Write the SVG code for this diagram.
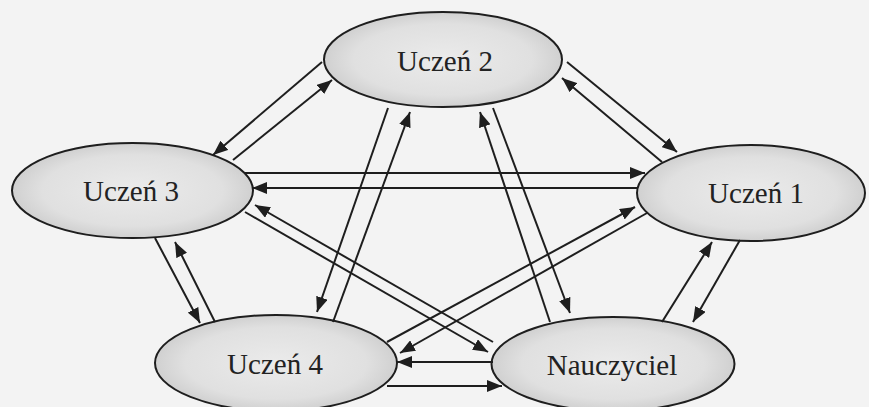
<svg xmlns="http://www.w3.org/2000/svg" width="869" height="407" viewBox="0 0 869 407">
<style>
.node ellipse{fill:url(#g);stroke:#1e1e1e;stroke-width:2}
.node text{font-family:"Liberation Serif","Times New Roman",serif;font-size:29px;fill:#222;text-anchor:middle}
.edges line{stroke:#1e1e1e;stroke-width:2;marker-end:url(#ah)}
</style>
<defs>
<radialGradient id="g" cx="50%" cy="50%" r="50%">
<stop offset="0" stop-color="#ebebeb"/>
<stop offset="0.75" stop-color="#e0e0e0"/>
<stop offset="1" stop-color="#d0d0d0"/>
</radialGradient>
<marker id="ah" markerUnits="userSpaceOnUse" markerWidth="16" markerHeight="12" refX="15" refY="6" orient="auto">
<path d="M0,0 L15,6 L0,12 z" fill="#1e1e1e"/>
</marker>
</defs>
<rect width="869" height="407" fill="#f3f3f3"/>
<g id="uczen2" class="node"><ellipse cx="443" cy="59.5" rx="119" ry="47.5"/><text x="445" y="71">Uczeń 2</text></g>
<g id="uczen3" class="node"><ellipse cx="132.5" cy="190.5" rx="120.5" ry="47.5"/><text x="131" y="201">Uczeń 3</text></g>
<g id="uczen1" class="node"><ellipse cx="751" cy="193" rx="114" ry="48"/><text x="756" y="203">Uczeń 1</text></g>
<g id="uczen4" class="node"><ellipse cx="276" cy="363" rx="121" ry="48"/><text x="275" y="374">Uczeń 4</text></g>
<g id="nauczyciel" class="node"><ellipse cx="613" cy="364" rx="121.5" ry="47"/><text x="612" y="375">Nauczyciel</text></g>
<g id="connectors" class="edges">
<line x1="322" y1="62" x2="213" y2="155"/>
<line x1="233" y1="160" x2="332" y2="80"/>
<line x1="567" y1="62" x2="677" y2="152"/>
<line x1="662" y1="162" x2="562" y2="78"/>
<line x1="245" y1="173" x2="645" y2="173"/>
<line x1="637" y1="188" x2="252" y2="188"/>
<line x1="388" y1="108" x2="317" y2="312"/>
<line x1="333" y1="322" x2="410" y2="112"/>
<line x1="550" y1="322" x2="480" y2="112"/>
<line x1="493" y1="108" x2="570" y2="313"/>
<line x1="493" y1="342" x2="255" y2="205"/>
<line x1="245" y1="212" x2="488" y2="352"/>
<line x1="387" y1="342" x2="635" y2="207"/>
<line x1="647" y1="213" x2="400" y2="353"/>
<line x1="155" y1="238" x2="200" y2="323"/>
<line x1="215" y1="322" x2="175" y2="242"/>
<line x1="662" y1="322" x2="712" y2="242"/>
<line x1="740" y1="240" x2="693" y2="322"/>
<line x1="493" y1="362" x2="397" y2="362"/>
<line x1="387" y1="386" x2="502" y2="386"/>
</g>
</svg>
